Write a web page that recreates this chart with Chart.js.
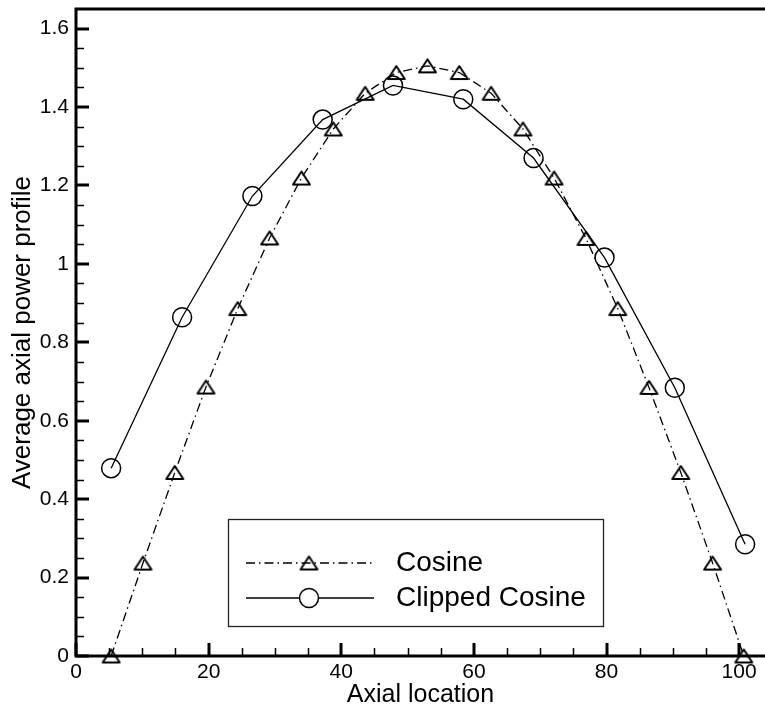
<!DOCTYPE html>
<html>
<head>
<meta charset="utf-8">
<title>Average axial power profile</title>
<script src="https://cdn.jsdelivr.net/npm/chart.js@4.4.0/dist/chart.umd.min.js"></script>
<style>
  html, body { margin: 0; padding: 0; background: #fff; }
  #wrap { width: 765px; height: 711px; }
</style>
</head>
<body>
<div id="wrap"><canvas id="powerChart"></canvas></div>
<script>
// Axial positions and power values
const cosineX = [5.3, 10.1, 14.9, 19.6, 24.4, 29.2, 34.0, 38.8, 43.6, 48.3, 53.0,
                 57.8, 62.6, 67.4, 72.1, 76.9, 81.7, 86.4, 91.2, 96.0, 100.7];
const cosineY = [0, 0.237, 0.468, 0.686, 0.886, 1.066, 1.219, 1.344, 1.435, 1.488, 1.505,
                 1.488, 1.435, 1.344, 1.219, 1.065, 0.886, 0.685, 0.468, 0.237, 0];
const clippedX = [5.3, 16.0, 26.6, 37.2, 47.8, 58.4, 69.0, 79.7, 90.3, 100.9];
const clippedY = [0.479, 0.864, 1.173, 1.368, 1.455, 1.420, 1.270, 1.016, 0.684, 0.285];
const seriesNames = ['Cosine', 'Clipped Cosine'];
const xTicks = [0, 20, 40, 60, 80, 100];
const yTicks = [0, 0.2, 0.4, 0.6, 0.8, 1, 1.2, 1.4, 1.6];

const FONT = '"Liberation Sans", Arial, Helvetica, sans-serif';
const cosineDash = [9, 4, 1.5, 4];

// hollow triangle marker, a bit wider than it is tall
function makeTriangle(w, h, lw) {
    const c = document.createElement('canvas');
    c.width = w + 2 * lw;
    c.height = h + 2 * lw;
    const g = c.getContext('2d');
    g.strokeStyle = '#000';
    g.lineWidth = lw;
    g.lineJoin = 'round';
    g.beginPath();
    g.moveTo(c.width / 2, lw);
    g.lineTo(c.width - lw, c.height - lw);
    g.lineTo(lw, c.height - lw);
    g.closePath();
    g.stroke();
    return c;
}
const triangle = makeTriangle(17, 13, 2);

function toPoints(xs, ys) {
    return xs.map((x, i) => ({ x: x, y: ys[i] }));
}

// keep the plot area where the frame is, not where labels would push it
function noLabelPadding(scale) {
    scale.paddingTop = 0;
    scale.paddingBottom = 0;
    scale.paddingLeft = 0;
    scale.paddingRight = 0;
}

// inward ticks, top frame line and the boxed legend
const framePlugin = {
    id: 'framePlugin',
    afterDraw(chart) {
        const { ctx, chartArea: a, scales: { x, y } } = chart;
        ctx.save();
        ctx.strokeStyle = '#000';
        ctx.lineCap = 'butt';

        // minor ticks
        ctx.lineWidth = 1.5;
        ctx.beginPath();
        for (let v = 5; v <= x.max; v += 5) {
            if (v % 20 === 0) continue;
            const px = Math.round(x.getPixelForValue(v)) + 0.5;
            ctx.moveTo(px, a.bottom);
            ctx.lineTo(px, a.bottom - 8);
        }
        for (let i = 1; i * 0.05 <= y.max; i++) {
            if (i % 4 === 0) continue;
            const py = Math.round(y.getPixelForValue(i * 0.05)) + 0.5;
            ctx.moveTo(a.left, py);
            ctx.lineTo(a.left + 8, py);
        }
        ctx.stroke();

        // major ticks
        ctx.lineWidth = 3;
        ctx.beginPath();
        xTicks.forEach(v => {
            const px = Math.round(x.getPixelForValue(v));
            ctx.moveTo(px, a.bottom);
            ctx.lineTo(px, a.bottom - 13);
        });
        yTicks.forEach(v => {
            const py = Math.round(y.getPixelForValue(v));
            ctx.moveTo(a.left, py);
            ctx.lineTo(a.left + 13, py);
        });
        ctx.stroke();

        // frame: left, bottom, top
        ctx.beginPath();
        ctx.moveTo(a.left, a.top - 1.5);
        ctx.lineTo(a.left, a.bottom + 1.5);
        ctx.moveTo(a.left - 1.5, a.bottom);
        ctx.lineTo(chart.width, a.bottom);
        ctx.moveTo(a.left - 1.5, a.top);
        ctx.lineTo(chart.width, a.top);
        ctx.stroke();

        // legend box
        ctx.lineWidth = 1.3;
        ctx.strokeStyle = '#222';
        ctx.strokeRect(228.5, 519.5, 375, 107);

        ctx.strokeStyle = '#000';
        ctx.lineWidth = 1.3;
        ctx.setLineDash(cosineDash);
        ctx.beginPath();
        ctx.moveTo(246, 563);
        ctx.lineTo(374, 563);
        ctx.stroke();
        ctx.setLineDash([]);
        ctx.drawImage(triangle, 309 - triangle.width / 2, 563 - triangle.height / 2);

        ctx.beginPath();
        ctx.moveTo(246, 598);
        ctx.lineTo(374, 598);
        ctx.stroke();
        ctx.lineWidth = 1.5;
        ctx.fillStyle = '#fff';
        ctx.beginPath();
        ctx.arc(309, 598, 9.5, 0, Math.PI * 2);
        ctx.fill();
        ctx.stroke();

        ctx.fillStyle = '#000';
        ctx.font = '28px ' + FONT;
        ctx.textBaseline = 'middle';
        ctx.textAlign = 'left';
        ctx.fillText(seriesNames[0], 396, 563);
        ctx.fillText(seriesNames[1], 396, 598);
        ctx.restore();
    }
};

const ctx = document.getElementById('powerChart').getContext('2d');
const powerChart = new Chart(ctx, {
    type: 'line',
    data: {
        datasets: [{
            label: seriesNames[0],
            data: toPoints(cosineX, cosineY),
            borderColor: '#000',
            borderWidth: 1.3,
            borderDash: cosineDash,
            pointStyle: triangle,
            pointRadius: 9,
            backgroundColor: 'transparent',
            tension: 0,
            clip: false
        }, {
            label: seriesNames[1],
            data: toPoints(clippedX, clippedY),
            borderColor: '#000',
            borderWidth: 1.3,
            pointStyle: 'circle',
            pointRadius: 9.5,
            pointBorderWidth: 1.5,
            pointBackgroundColor: 'transparent',
            backgroundColor: 'transparent',
            tension: 0,
            clip: false
        }]
    },
    options: {
        responsive: true,
        maintainAspectRatio: false,
        animation: false,
        layout: {
            autoPadding: false,
            padding: { top: 9, right: 0, left: 0, bottom: 0 }
        },
        plugins: {
            legend: { display: false },
            tooltip: { enabled: false }
        },
        scales: {
            x: {
                type: 'linear',
                min: 0,
                max: 103.9,
                afterFit: function(scale) {
                    scale.height = 55;
                    noLabelPadding(scale);
                },
                grid: { display: false, drawTicks: false },
                border: { display: false },
                ticks: {
                    stepSize: 20,
                    includeBounds: false,
                    padding: 4,
                    color: '#000',
                    font: { family: FONT, size: 21 },
                    maxRotation: 0
                },
                title: {
                    display: true,
                    text: 'Axial location',
                    color: '#000',
                    font: { family: FONT, size: 25 },
                    padding: { top: 0, bottom: 1 }
                }
            },
            y: {
                type: 'linear',
                min: 0,
                max: 1.65,
                afterFit: function(scale) {
                    scale.width = 76;
                    noLabelPadding(scale);
                },
                grid: { display: false, drawTicks: false },
                border: { display: false },
                ticks: {
                    stepSize: 0.2,
                    includeBounds: false,
                    padding: 7,
                    color: '#000',
                    font: { family: FONT, size: 21 },
                    callback: function(v) { return String(Number(v.toFixed(1))); }
                },
                title: {
                    display: true,
                    text: 'Average axial power profile',
                    color: '#000',
                    font: { family: FONT, size: 26 },
                    padding: { top: 7, bottom: 0 }
                }
            }
        }
    },
    plugins: [framePlugin]
});
</script>
</body>
</html>
